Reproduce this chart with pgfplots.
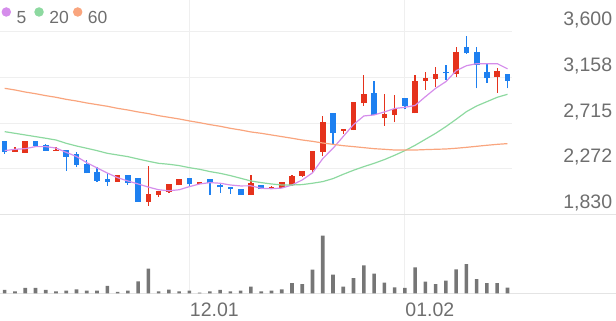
\documentclass[border=0pt]{standalone}
\usepackage{fontspec}
\setmainfont{Liberation Sans}
\usepackage{pgfplots}
\usepackage{pgfplotstable}
\pgfplotsset{compat=1.18}
\definecolor{ma5}{HTML}{D58DEB}
\definecolor{ma20}{HTML}{8DD9A0}
\definecolor{ma60}{HTML}{F9A57E}
\definecolor{upred}{HTML}{E5321C}
\definecolor{dnblue}{HTML}{1E80F0}
\definecolor{volgray}{HTML}{767676}
\definecolor{gridc}{HTML}{EFEFEF}
\definecolor{sepc}{HTML}{E4E4E4}
\definecolor{labgray}{HTML}{6E6E6E}

\pgfplotstableread{
i o h l c
1 2434 2486 2434 2460
2 2428 2541 2428 2541
5 2447 2486 2447 2457
11 2147 2211 2147 2211
14 1953 2302 1911 2027
15 2017 2059 2001 2059
16 2050 2121 2040 2121
17 2111 2172 2111 2172
19 2124 2147 2124 2147
24 2017 2211 2017 2131
26 2079 2105 2079 2098
27 2082 2147 2082 2147
28 2114 2215 2105 2202
29 2205 2253 2195 2253
30 2260 2447 2244 2447
31 2437 2786 2395 2728
33 2638 2657 2609 2657
34 2647 2915 2647 2915
35 2906 3180 2880 2993
37 2760 2993 2689 2802
38 2793 2987 2722 2848
40 2809 3180 2809 3125
41 3122 3213 3035 3155
42 3141 3261 3061 3190
44 3190 3455 3158 3400
48 3158 3245 3009 3222
}\uptab

\pgfplotstableread{
i o h l c
0 2541 2541 2415 2437
3 2541 2545 2490 2492
4 2502 2512 2447 2447
6 2453 2453 2253 2389
7 2415 2437 2286 2308
8 2318 2357 2227 2227
9 2244 2292 2147 2156
10 2169 2227 2105 2147
12 2211 2211 2114 2137
13 2179 2179 1953 1953
18 2185 2185 2098 2121
20 2169 2169 2017 2137
21 2114 2137 2040 2092
22 2098 2098 2027 2072
23 2079 2079 2021 2021
25 2114 2114 2072 2072
32 2809 2809 2512 2622
36 3003 3122 2793 2793
39 2961 2961 2848 2880
43 3213 3277 3132 3197
45 3455 3558 3384 3390
46 3400 3455 3051 3277
47 3206 3300 3106 3148
49 3190 3190 3051 3125
}\dntab

\pgfplotstableread{
i m5 m20 m60
0 2447 2631 3051
1 2460 2615 3035
2 2466 2599 3015
3 2486 2583 2999
4 2486 2567 2980
5 2472 2550 2964
6 2430 2518 2944
7 2390 2492 2928
8 2330 2470 2909
9 2280 2447 2893
10 2230 2421 2877
11 2185 2405 2857
12 2153 2389 2841
13 2124 2366 2822
14 2094 2344 2806
15 2068 2324 2786
16 2058 2315 2770
17 2068 2302 2754
18 2098 2282 2735
19 2124 2266 2718
20 2137 2244 2699
21 2131 2227 2683
22 2114 2205 2663
23 2105 2179 2647
24 2106 2153 2628
25 2082 2137 2615
26 2078 2124 2599
27 2084 2114 2583
28 2114 2114 2567
29 2163 2118 2550
30 2232 2131 2537
31 2370 2147 2521
32 2470 2176 2508
33 2585 2218 2495
34 2700 2257 2486
35 2783 2292 2476
36 2793 2324 2466
37 2822 2360 2460
38 2855 2402 2453
39 2867 2447 2453
40 2885 2499 2453
41 2970 2557 2457
42 3051 2615 2460
43 3116 2680 2463
44 3222 2751 2470
45 3270 2825 2479
46 3290 2880 2489
47 3290 2922 2499
48 3290 2964 2508
49 3240 2993 2515
}\matab

\pgfplotstableread{
i v
0 10
1 6
2 16
3 16
4 10
5 6
6 8
7 12
8 8
9 8
10 22
11 4
12 8
13 36
14 74
15 6
16 11
17 6
18 8
19 2
20 6
21 10
22 6
23 8
24 20
25 6
26 8
27 12
28 31
29 28
30 71
31 174
32 56
33 20
34 46
35 84
36 59
37 32
38 18
39 16
40 78
41 35
42 28
43 38
44 72
45 88
46 43
47 31
48 31
49 17
}\voltab

\begin{document}
\begin{tikzpicture}
\path[use as bounding box] (0pt,0pt) rectangle (616pt,321pt);
% ---------- price pane ----------
\begin{axis}[
  at={(0pt,106.7pt)}, anchor=south west,
  scale only axis, width=512pt, height=214.3pt,
  xmin=-0.458, xmax=49.44, ymin=1830, ymax=3907,
  clip=false,
  axis line style={draw=none}, tick style={draw=none}, major tick length=0pt,
  xtick={18,39}, xticklabels={\relax,\relax}, xmajorgrids,
  ytick={1830,2272.5,2715,3157.5,3600},
  yticklabels={{1,830},{2,272},{2,715},{3,158},{3,600}},
  ymajorgrids, grid style={draw=gridc, line width=0.8pt},
  yticklabel pos=right,
  yticklabel style={anchor=base east, inner sep=0pt, xshift=100.3pt, yshift=5.7pt,
    font=\fontsize{19.5}{20}\selectfont, text=labgray},
  legend columns=-1,
  legend style={draw=none, fill=none, inner sep=0pt, outer sep=0pt,
    at={(axis description cs:0,0.925)}, anchor=west, xshift=1.6pt,
    font=\fontsize{17.5}{18}\selectfont, text=labgray,
    nodes={inner sep=0pt},
    /tikz/column 1/.style={column sep=5.6pt},
    /tikz/column 2/.style={column sep=8pt},
    /tikz/column 3/.style={column sep=5.6pt},
    /tikz/column 4/.style={column sep=4.2pt},
    /tikz/column 5/.style={column sep=5.6pt}},
  legend image code/.code={\fill[#1] (4.1pt,0.6em) circle (4.1pt);},
]
% wicks and bodies, rising (red)
\addplot[forget plot, draw=none, mark=none, error bars/.cd, y dir=plus, y explicit,
  error mark=none, error bar style={draw=upred, line width=1.3pt}]
  table[x=i, y=l, y error expr=\thisrow{h}-\thisrow{l}] {\uptab};
\addplot[forget plot, draw=none, mark=none, error bars/.cd, y dir=plus, y explicit,
  error mark=none, error bar style={draw=upred, line width=5.6pt}]
  table[x=i, y=o, y error expr=\thisrow{c}-\thisrow{o}] {\uptab};
% falling (blue)
\addplot[forget plot, draw=none, mark=none, error bars/.cd, y dir=plus, y explicit,
  error mark=none, error bar style={draw=dnblue, line width=1.3pt}]
  table[x=i, y=l, y error expr=\thisrow{h}-\thisrow{l}] {\dntab};
\addplot[forget plot, draw=none, mark=none, error bars/.cd, y dir=plus, y explicit,
  error mark=none, error bar style={draw=dnblue, line width=5.6pt}]
  table[x=i, y=c, y error expr=\thisrow{o}-\thisrow{c}] {\dntab};
% moving averages
\addplot[color=ma5, line width=1.2pt] table[x=i, y=m5] {\matab};
\addlegendentry{5}
\addplot[color=ma20, line width=1.2pt] table[x=i, y=m20] {\matab};
\addlegendentry{20}
\addplot[color=ma60, line width=1.2pt] table[x=i, y=m60] {\matab};
\addlegendentry{60}
\end{axis}
% ---------- volume pane ----------
\begin{axis}[
  at={(0pt,27.7pt)}, anchor=south west,
  scale only axis, width=616pt, height=79pt,
  xmin=-0.458, xmax=59.58, ymin=0, ymax=238,
  axis y line=none, axis x line=box,
  axis line style={draw=sepc, line width=0.8pt},
  tick style={draw=none}, major tick length=0pt,
  xtick={18,39}, xticklabels={12.01,01.02},
  xticklabel style={anchor=base west, inner sep=0pt, yshift=-23.4pt, xshift=0.4pt,
    font=\fontsize{19.5}{20}\selectfont, text=labgray},
  xmajorgrids, grid style={draw=gridc, line width=0.8pt},
]
\addplot[ybar, bar width=3.6pt, fill=volgray, draw=none] table[x=i, y=v] {\voltab};
\end{axis}
\end{tikzpicture}
\end{document}
